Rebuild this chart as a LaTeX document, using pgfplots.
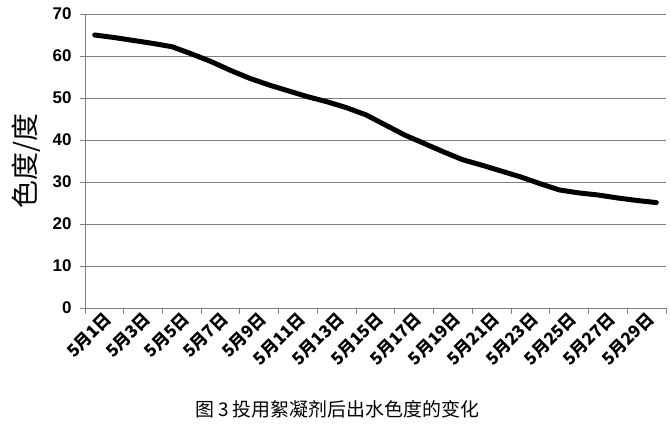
\documentclass[border=0pt]{standalone}
\usepackage{fontspec}
\usepackage{pgfplots}
\pgfplotsset{compat=1.18}
\setmainfont{Liberation Sans}
\newfontfamily\cjk{Noto Sans CJK SC}
\begin{document}
\begin{tikzpicture}
\useasboundingbox (0,0) rectangle (671bp,428bp);
\begin{axis}[
  at={(85bp,120bp)}, anchor=south west,
  scale only axis, width=581bp, height=294bp,
  xmin=0.5, xmax=30.5, ymin=0, ymax=70,
  axis x line=bottom, axis y line=left,
  axis line style={-, draw=gray, line width=0.9bp},
  ytick={0,10,...,70},
  ymajorgrids, grid style={draw=gray, line width=0.9bp},
  tick align=outside,
  major tick length=5bp, minor tick length=6bp,
  ytick style={draw=gray, line width=0.9bp},
  major x tick style={draw=none},
  minor xtick={0.5,2.5,...,30.5},
  minor x tick style={draw=gray, line width=0.9bp},
  xtick={1,3,...,29},
  xticklabels={5月1日,5月3日,5月5日,5月7日,5月9日,5月11日,5月13日,5月15日,5月17日,5月19日,5月21日,5月23日,5月25日,5月27日,5月29日},
  xticklabel style={rotate=45, anchor=east, font=\cjk\bfseries\fontsize{17}{17}\selectfont, inner sep=0bp, yshift=-12bp, xshift=8bp},
  yticklabel style={font=\bfseries\fontsize{17}{17}\selectfont, xshift=-5bp},
  /pgf/number format/assume math mode=true,
  ylabel={色度/度},
  every axis y label/.style={at={(axis description cs:0,0.5)}, xshift=-59bp, rotate=90, anchor=center, font=\cjk\fontsize{28}{28}\selectfont},
  clip=false,
]
\addplot[black, line width=5bp, line join=round, line cap=round] table {
x y
1 65.0
2 64.4
3 63.7
4 63.0
5 62.2
6 60.5
7 58.7
8 56.6
9 54.7
10 53.1
11 51.7
12 50.3
13 49.1
14 47.7
15 46.0
16 43.6
17 41.2
18 39.2
19 37.2
20 35.3
21 34.0
22 32.6
23 31.2
24 29.6
25 28.1
26 27.4
27 26.9
28 26.2
29 25.6
30 25.1
};
\end{axis}
\node[font=\cjk\fontsize{19}{19}\selectfont] at (337bp,19bp) {图 3 投用絮凝剂后出水色度的变化};
\end{tikzpicture}
\end{document}
